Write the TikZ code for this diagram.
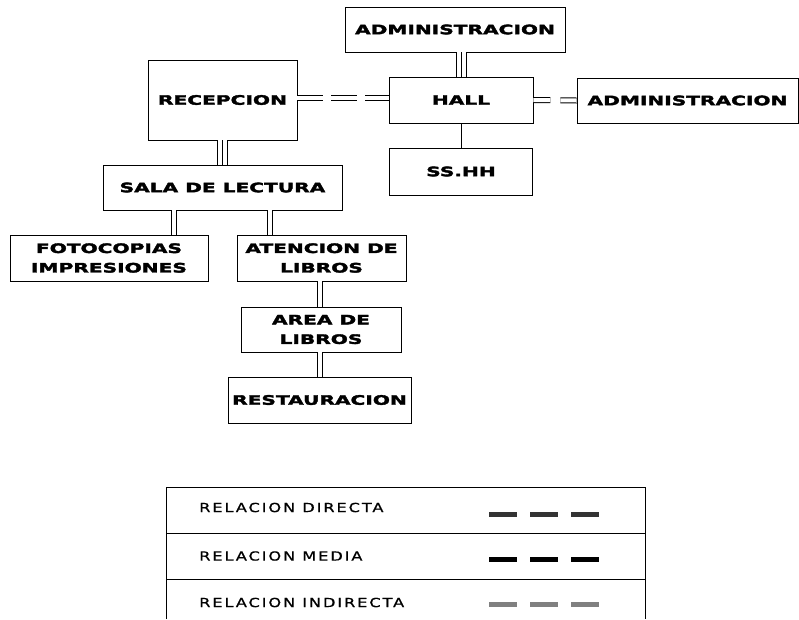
\documentclass[tikz,border=0pt]{standalone}
\usepackage{fontspec}
\setmainfont{DejaVu Sans}
\newfontfamily\boxfont{DejaVu Sans}[UprightFont=* Bold, FakeStretch=1.55, FakeBold=2.6]
\newfontfamily\legfont{DejaVu Sans}[FakeStretch=1.3, LetterSpace=15, FakeBold=0.8]

\tikzset{
	room/.style={
		draw,
		line width=0.8pt,
		inner sep=0pt,
		align=center,
		font=\boxfont\fontsize{13}{19.5}\selectfont
	},
	dbl/.style={line width=1pt, double, double distance=4pt},
	dbldash/.style={dbl, dash pattern=on 26pt off 8pt},
	trpl/.style={
		line width=1pt,
		preaction={draw, line width=11pt},
		preaction={draw, white, line width=9pt}
	},
	legtext/.style={anchor=west, inner sep=0pt, font=\legfont\fontsize{12.5}{14}\selectfont},
	legdash/.style={line width=5pt, dash pattern=on 28pt off 13pt}
}

\begin{document}
\begin{tikzpicture}[x=1pt, y=-1pt]
\useasboundingbox (0,0) rectangle (799,619);

\node[room, minimum width=220pt, minimum height=45pt] (admTop) at (455,29.5) {ADMINISTRACION};
\node[room, minimum width=149pt, minimum height=80pt] (recepcion) at (222.5,100) {RECEPCION};
\node[room, minimum width=144pt, minimum height=46pt] (hall) at (461,100) {HALL};
\node[room, minimum width=221pt, minimum height=45pt] (admRight) at (687.5,100.5) {ADMINISTRACION};
\node[room, minimum width=143pt, minimum height=47pt] (sshh) at (461,171.5) {SS.HH};
\node[room, minimum width=239pt, minimum height=45pt] (sala) at (222.5,187.5) {SALA DE LECTURA};
\node[room, minimum width=198pt, minimum height=46pt] (fotocopias) at (109,258) {FOTOCOPIAS\\IMPRESIONES};
\node[room, minimum width=169pt, minimum height=46pt] (atencion) at (321.5,258) {ATENCION DE\\LIBROS};
\node[room, minimum width=160pt, minimum height=45pt] (areaLibros) at (321,329.5) {AREA DE\\LIBROS};
\node[room, minimum width=183pt, minimum height=46pt] (restauracion) at (319.5,400) {RESTAURACION};

% ---

\draw[trpl] (admTop.south -| hall.north) -- (hall.north);
\draw[trpl] (recepcion.south) -- (sala.north);
\draw[dbldash] ([yshift=2pt]recepcion.east) -- ([yshift=2pt]recepcion.east -| hall.west);
\draw[dbldash, dash pattern=on 17pt off 10pt] (hall.east) -- (admRight.west);
\draw[line width=0.8pt] (hall.south) -- (sshh.north);
\draw[dbl] ([xshift=65pt]fotocopias.north) -- ([xshift=65pt]fotocopias.north |- sala.south);
\draw[dbl] ([xshift=-52pt]atencion.north) -- ([xshift=-52pt]atencion.north |- sala.south);
\draw[dbl] ([xshift=-2pt]atencion.south) -- ([xshift=-2pt]atencion.south |- areaLibros.north);
\draw[dbl] (restauracion.north) -- (restauracion.north |- areaLibros.south);

% leyenda
\draw[line width=0.8pt] (166,619) -- (166,487) -- (645,487) -- (645,619);
\draw[line width=0.8pt] (166,533) -- (645,533) (166,579) -- (645,579);

\node[legtext] (relDirecta) at (199,507.5) {RELACION DIRECTA};
\node[legtext] (relMedia) at (199,556) {RELACION MEDIA};
\node[legtext] (relIndirecta) at (199,602.5) {RELACION INDIRECTA};

\draw[legdash, black!80] (489,514) -- (599,514);
\draw[legdash] (489,559.5) -- (599,559.5);
\draw[legdash, black!50] (489,604.5) -- (599,604.5);

\end{tikzpicture}
\end{document}
